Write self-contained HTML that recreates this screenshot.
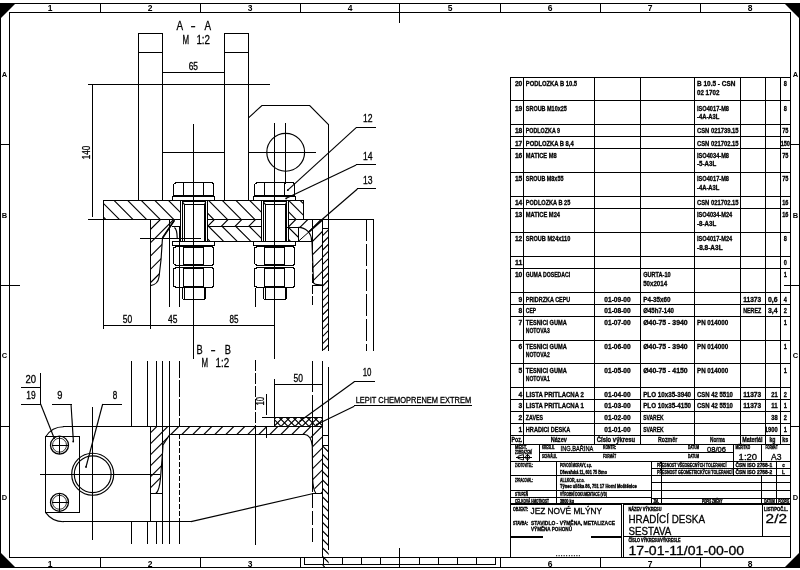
<!DOCTYPE html>
<html><head><meta charset="utf-8"><title>drawing</title>
<style>
html,body{margin:0;padding:0;background:#fff;}
body{width:800px;height:570px;overflow:hidden;}
svg{display:block;font-family:"Liberation Sans",sans-serif;fill:#000;filter:grayscale(1);}
svg rect{shape-rendering:crispEdges;}
</style></head><body>
<svg width="800" height="570" viewBox="0 0 800 570">
<defs>
<clipPath id="c1"><path d="M103.3 200.4 L180.2 200.4 L180.2 219.3 L103.3 219.3 Z"/></clipPath>
<clipPath id="c2"><path d="M207.4 200.4 L261.2 200.4 L261.2 219.3 L207.4 219.3 Z"/></clipPath>
<clipPath id="c3"><path d="M288.4 200.4 L303.6 200.4 L303.6 219.3 L288.4 219.3 Z"/></clipPath>
<clipPath id="c4"><path d="M207.4 219.3 L261.2 219.3 L261.2 226.3 L207.4 226.3 Z"/></clipPath>
<clipPath id="c5"><path d="M207.4 226.3 L261.2 226.3 L261.2 241.2 L207.4 241.2 Z"/></clipPath>
<clipPath id="c6"><path d="M288.4 227.3 L298.5 227.3 L298.5 241.2 L288.4 241.2 Z"/></clipPath>
<clipPath id="c7"><path d="M288.4 219.3 L298.5 219.3 L298.5 227.3 L288.4 227.3 Z"/></clipPath>
<clipPath id="c8"><path d="M150.5 219.3 L174.4 219.3 L162.5 238.0 L161.0 260.0 L159.0 277.0 L157.5 283.0 L150.5 285.6 Z"/></clipPath>
<clipPath id="c9"><path d="M298.5 219.3 L322.2 219.3 L322.2 285.0 L317.7 284.6 L313.5 282.8 L312.0 241.4 L311.5 240.3 L309.8 233.8 L305.0 229.0 L298.5 227.3 Z"/></clipPath>
<clipPath id="c10"><path d="M322.2 228.0 L328.6 228.0 L328.6 350.2 L322.2 350.2 Z"/></clipPath>
<clipPath id="c11"><path d="M150.0 426.3 L322.4 426.3 L322.4 493.6 L315.5 493.6 L312.6 480.0 L312.3 446.0 L310.0 436.5 L304.0 434.2 L170.0 434.2 L163.0 445.0 L162.6 452.0 L160.5 478.0 L158.5 490.0 L156.0 493.5 L150.0 493.5 Z"/></clipPath>
<clipPath id="c12"><path d="M322.4 445.4 L328.7 445.4 L328.7 567.0 L322.4 567.0 Z"/></clipPath>
<clipPath id="c13"><path d="M274.5 417.3 L322.4 417.3 L322.4 426.3 L274.5 426.3 Z"/></clipPath>
<clipPath id="c14"><path d="M274.5 417.3 L322.4 417.3 L322.4 426.3 L274.5 426.3 Z"/></clipPath>
</defs>
<rect x="0" y="0" width="800" height="570" fill="#fff"/>
<rect x="0" y="3" width="800" height="1"/>
<rect x="0" y="567" width="800" height="1"/>
<rect x="0" y="3" width="1" height="565"/>
<rect x="799" y="3" width="1" height="565"/>
<rect x="9" y="12" width="782" height="1"/>
<rect x="9" y="557" width="782" height="1"/>
<rect x="9" y="12" width="1" height="546"/>
<rect x="790" y="12" width="1" height="546"/>
<path d="M0 3 L16 3 L0 19 Z"/>
<path d="M800 3 L784 3 L800 19 Z"/>
<path d="M0 568 L16 568 L0 552 Z"/>
<path d="M800 568 L784 568 L800 552 Z"/>
<rect x="100" y="3" width="1" height="10"/>
<rect x="100" y="557" width="1" height="11"/>
<rect x="200" y="3" width="1" height="10"/>
<rect x="200" y="557" width="1" height="11"/>
<rect x="300" y="3" width="1" height="10"/>
<rect x="300" y="557" width="1" height="11"/>
<rect x="500" y="3" width="1" height="10"/>
<rect x="500" y="557" width="1" height="11"/>
<rect x="600" y="3" width="1" height="10"/>
<rect x="600" y="557" width="1" height="11"/>
<rect x="700" y="3" width="1" height="10"/>
<rect x="700" y="557" width="1" height="11"/>
<rect x="399" y="3" width="1" height="20"/>
<rect x="399" y="548" width="1" height="20"/>
<text x="50.0" y="11.0" font-size="8.5" text-anchor="middle" font-weight="bold" >1</text>
<text x="50.0" y="566.5" font-size="8.5" text-anchor="middle" font-weight="bold" >1</text>
<text x="150.0" y="11.0" font-size="8.5" text-anchor="middle" font-weight="bold" >2</text>
<text x="150.0" y="566.5" font-size="8.5" text-anchor="middle" font-weight="bold" >2</text>
<text x="250.0" y="11.0" font-size="8.5" text-anchor="middle" font-weight="bold" >3</text>
<text x="250.0" y="566.5" font-size="8.5" text-anchor="middle" font-weight="bold" >3</text>
<text x="350.0" y="11.0" font-size="8.5" text-anchor="middle" font-weight="bold" >4</text>
<text x="450.0" y="11.0" font-size="8.5" text-anchor="middle" font-weight="bold" >5</text>
<text x="550.0" y="11.0" font-size="8.5" text-anchor="middle" font-weight="bold" >6</text>
<text x="550.0" y="566.5" font-size="8.5" text-anchor="middle" font-weight="bold" >6</text>
<text x="650.0" y="11.0" font-size="8.5" text-anchor="middle" font-weight="bold" >7</text>
<text x="650.0" y="566.5" font-size="8.5" text-anchor="middle" font-weight="bold" >7</text>
<text x="750.0" y="11.0" font-size="8.5" text-anchor="middle" font-weight="bold" >8</text>
<text x="750.0" y="566.5" font-size="8.5" text-anchor="middle" font-weight="bold" >8</text>
<rect x="0" y="144" width="10" height="1"/>
<rect x="790" y="144" width="10" height="1"/>
<rect x="0" y="426" width="10" height="1"/>
<rect x="790" y="426" width="10" height="1"/>
<rect x="0" y="285" width="20" height="1"/>
<rect x="784" y="285" width="16" height="1"/>
<text x="4.5" y="77.0" font-size="7.5" text-anchor="middle" font-weight="bold" >A</text>
<text x="795.5" y="77.0" font-size="7.5" text-anchor="middle" font-weight="bold" >A</text>
<text x="4.5" y="218.0" font-size="7.5" text-anchor="middle" font-weight="bold" >B</text>
<text x="795.5" y="218.0" font-size="7.5" text-anchor="middle" font-weight="bold" >B</text>
<text x="4.5" y="358.0" font-size="7.5" text-anchor="middle" font-weight="bold" >C</text>
<text x="795.5" y="358.0" font-size="7.5" text-anchor="middle" font-weight="bold" >C</text>
<text x="4.5" y="500.0" font-size="7.5" text-anchor="middle" font-weight="bold" >D</text>
<text x="795.5" y="500.0" font-size="7.5" text-anchor="middle" font-weight="bold" >D</text>
<rect x="304" y="564" width="192" height="1"/>
<rect x="304" y="557" width="1" height="8"/>
<rect x="495" y="557" width="1" height="8"/>
<rect x="304" y="557" width="1" height="8"/>
<rect x="323" y="557" width="1" height="8"/>
<rect x="342" y="557" width="1" height="8"/>
<rect x="361" y="557" width="1" height="8"/>
<rect x="380" y="557" width="1" height="8"/>
<rect x="419" y="557" width="1" height="8"/>
<rect x="438" y="557" width="1" height="8"/>
<rect x="457" y="557" width="1" height="8"/>
<rect x="476" y="557" width="1" height="8"/>
<rect x="495" y="557" width="1" height="8"/>
<rect x="510" y="77" width="281" height="1"/>
<rect x="510" y="100" width="281" height="1"/>
<rect x="510" y="124" width="281" height="1"/>
<rect x="510" y="136" width="281" height="1"/>
<rect x="510" y="148" width="281" height="1"/>
<rect x="510" y="172" width="281" height="1"/>
<rect x="510" y="196" width="281" height="1"/>
<rect x="510" y="208" width="281" height="1"/>
<rect x="510" y="232" width="281" height="1"/>
<rect x="510" y="256" width="281" height="1"/>
<rect x="510" y="268" width="281" height="1"/>
<rect x="510" y="292" width="281" height="1"/>
<rect x="510" y="304" width="281" height="1"/>
<rect x="510" y="316" width="281" height="1"/>
<rect x="510" y="340" width="281" height="1"/>
<rect x="510" y="363" width="281" height="1"/>
<rect x="510" y="387" width="281" height="1"/>
<rect x="510" y="399" width="281" height="1"/>
<rect x="510" y="411" width="281" height="1"/>
<rect x="510" y="423" width="281" height="1"/>
<rect x="510" y="435" width="281" height="1"/>
<rect x="510" y="444" width="281" height="1"/>
<rect x="510" y="77" width="1" height="368"/>
<rect x="523" y="77" width="1" height="368"/>
<rect x="594" y="77" width="1" height="368"/>
<rect x="640" y="77" width="1" height="368"/>
<rect x="694" y="77" width="1" height="368"/>
<rect x="740" y="77" width="1" height="368"/>
<rect x="765" y="77" width="1" height="368"/>
<rect x="780" y="77" width="1" height="368"/>
<text x="522.3" y="86.4" font-size="6.8" textLength="7.4" lengthAdjust="spacingAndGlyphs" text-anchor="end" font-weight="bold" stroke="#000" stroke-width="0.3">20</text>
<text x="525.8" y="86.4" font-size="6.8" textLength="51.3" lengthAdjust="spacingAndGlyphs" font-weight="bold" stroke="#000" stroke-width="0.3">PODLOZKA B 10.5</text>
<text x="697.0" y="86.4" font-size="6.8" textLength="38.4" lengthAdjust="spacingAndGlyphs" font-weight="bold" stroke="#000" stroke-width="0.3">B 10.5 - CSN</text>
<text x="697.0" y="94.8" font-size="6.8" textLength="22.4" lengthAdjust="spacingAndGlyphs" font-weight="bold" stroke="#000" stroke-width="0.3">02 1702</text>
<text x="785.3" y="86.4" font-size="6.8" textLength="3.1" lengthAdjust="spacingAndGlyphs" text-anchor="middle" font-weight="bold" stroke="#000" stroke-width="0.3">8</text>
<text x="522.3" y="110.5" font-size="6.8" textLength="7.4" lengthAdjust="spacingAndGlyphs" text-anchor="end" font-weight="bold" stroke="#000" stroke-width="0.3">19</text>
<text x="525.8" y="110.5" font-size="6.8" textLength="41.0" lengthAdjust="spacingAndGlyphs" font-weight="bold" stroke="#000" stroke-width="0.3">SROUB M10x25</text>
<text x="697.0" y="110.5" font-size="6.8" textLength="32.0" lengthAdjust="spacingAndGlyphs" font-weight="bold" stroke="#000" stroke-width="0.3">ISO4017-M8</text>
<text x="697.0" y="118.9" font-size="6.8" textLength="22.4" lengthAdjust="spacingAndGlyphs" font-weight="bold" stroke="#000" stroke-width="0.3">-4A-A3L</text>
<text x="785.3" y="110.5" font-size="6.8" textLength="3.1" lengthAdjust="spacingAndGlyphs" text-anchor="middle" font-weight="bold" stroke="#000" stroke-width="0.3">8</text>
<text x="522.3" y="133.3" font-size="6.8" textLength="7.4" lengthAdjust="spacingAndGlyphs" text-anchor="end" font-weight="bold" stroke="#000" stroke-width="0.3">18</text>
<text x="525.8" y="133.3" font-size="6.8" textLength="34.2" lengthAdjust="spacingAndGlyphs" font-weight="bold" stroke="#000" stroke-width="0.3">PODLOZKA 9</text>
<text x="697.0" y="133.3" font-size="6.8" textLength="41.6" lengthAdjust="spacingAndGlyphs" font-weight="bold" stroke="#000" stroke-width="0.3">CSN 021739.15</text>
<text x="785.3" y="133.3" font-size="6.8" textLength="6.2" lengthAdjust="spacingAndGlyphs" text-anchor="middle" font-weight="bold" stroke="#000" stroke-width="0.3">75</text>
<text x="522.3" y="145.5" font-size="6.8" textLength="7.4" lengthAdjust="spacingAndGlyphs" text-anchor="end" font-weight="bold" stroke="#000" stroke-width="0.3">17</text>
<text x="525.8" y="145.5" font-size="6.8" textLength="47.9" lengthAdjust="spacingAndGlyphs" font-weight="bold" stroke="#000" stroke-width="0.3">PODLOZKA B 8,4</text>
<text x="697.0" y="145.5" font-size="6.8" textLength="41.6" lengthAdjust="spacingAndGlyphs" font-weight="bold" stroke="#000" stroke-width="0.3">CSN 021702.15</text>
<text x="785.3" y="145.5" font-size="6.8" textLength="9.3" lengthAdjust="spacingAndGlyphs" text-anchor="middle" font-weight="bold" stroke="#000" stroke-width="0.3">150</text>
<text x="522.3" y="157.5" font-size="6.8" textLength="7.4" lengthAdjust="spacingAndGlyphs" text-anchor="end" font-weight="bold" stroke="#000" stroke-width="0.3">16</text>
<text x="525.8" y="157.5" font-size="6.8" textLength="30.8" lengthAdjust="spacingAndGlyphs" font-weight="bold" stroke="#000" stroke-width="0.3">MATICE M8</text>
<text x="697.0" y="157.5" font-size="6.8" textLength="32.0" lengthAdjust="spacingAndGlyphs" font-weight="bold" stroke="#000" stroke-width="0.3">ISO4034-M8</text>
<text x="697.0" y="165.9" font-size="6.8" textLength="19.2" lengthAdjust="spacingAndGlyphs" font-weight="bold" stroke="#000" stroke-width="0.3">-5-A3L</text>
<text x="785.3" y="157.5" font-size="6.8" textLength="6.2" lengthAdjust="spacingAndGlyphs" text-anchor="middle" font-weight="bold" stroke="#000" stroke-width="0.3">75</text>
<text x="522.3" y="181.3" font-size="6.8" textLength="7.4" lengthAdjust="spacingAndGlyphs" text-anchor="end" font-weight="bold" stroke="#000" stroke-width="0.3">15</text>
<text x="525.8" y="181.3" font-size="6.8" textLength="37.6" lengthAdjust="spacingAndGlyphs" font-weight="bold" stroke="#000" stroke-width="0.3">SROUB M8x55</text>
<text x="697.0" y="181.3" font-size="6.8" textLength="32.0" lengthAdjust="spacingAndGlyphs" font-weight="bold" stroke="#000" stroke-width="0.3">ISO4017-M8</text>
<text x="697.0" y="189.7" font-size="6.8" textLength="22.4" lengthAdjust="spacingAndGlyphs" font-weight="bold" stroke="#000" stroke-width="0.3">-4A-A3L</text>
<text x="785.3" y="181.3" font-size="6.8" textLength="6.2" lengthAdjust="spacingAndGlyphs" text-anchor="middle" font-weight="bold" stroke="#000" stroke-width="0.3">75</text>
<text x="522.3" y="205.1" font-size="6.8" textLength="7.4" lengthAdjust="spacingAndGlyphs" text-anchor="end" font-weight="bold" stroke="#000" stroke-width="0.3">14</text>
<text x="525.8" y="205.1" font-size="6.8" textLength="44.5" lengthAdjust="spacingAndGlyphs" font-weight="bold" stroke="#000" stroke-width="0.3">PODLOZKA B 25</text>
<text x="697.0" y="205.1" font-size="6.8" textLength="41.6" lengthAdjust="spacingAndGlyphs" font-weight="bold" stroke="#000" stroke-width="0.3">CSN 021702.15</text>
<text x="785.3" y="205.1" font-size="6.8" textLength="6.2" lengthAdjust="spacingAndGlyphs" text-anchor="middle" font-weight="bold" stroke="#000" stroke-width="0.3">16</text>
<text x="522.3" y="217.1" font-size="6.8" textLength="7.4" lengthAdjust="spacingAndGlyphs" text-anchor="end" font-weight="bold" stroke="#000" stroke-width="0.3">13</text>
<text x="525.8" y="217.1" font-size="6.8" textLength="34.2" lengthAdjust="spacingAndGlyphs" font-weight="bold" stroke="#000" stroke-width="0.3">MATICE M24</text>
<text x="697.0" y="217.1" font-size="6.8" textLength="35.2" lengthAdjust="spacingAndGlyphs" font-weight="bold" stroke="#000" stroke-width="0.3">ISO4034-M24</text>
<text x="697.0" y="225.5" font-size="6.8" textLength="19.2" lengthAdjust="spacingAndGlyphs" font-weight="bold" stroke="#000" stroke-width="0.3">-8-A3L</text>
<text x="785.3" y="217.1" font-size="6.8" textLength="6.2" lengthAdjust="spacingAndGlyphs" text-anchor="middle" font-weight="bold" stroke="#000" stroke-width="0.3">16</text>
<text x="522.3" y="241.2" font-size="6.8" textLength="7.4" lengthAdjust="spacingAndGlyphs" text-anchor="end" font-weight="bold" stroke="#000" stroke-width="0.3">12</text>
<text x="525.8" y="241.2" font-size="6.8" textLength="44.5" lengthAdjust="spacingAndGlyphs" font-weight="bold" stroke="#000" stroke-width="0.3">SROUB M24x110</text>
<text x="697.0" y="241.2" font-size="6.8" textLength="35.2" lengthAdjust="spacingAndGlyphs" font-weight="bold" stroke="#000" stroke-width="0.3">ISO4017-M24</text>
<text x="697.0" y="249.6" font-size="6.8" textLength="25.6" lengthAdjust="spacingAndGlyphs" font-weight="bold" stroke="#000" stroke-width="0.3">-8.8-A3L</text>
<text x="785.3" y="241.2" font-size="6.8" textLength="3.1" lengthAdjust="spacingAndGlyphs" text-anchor="middle" font-weight="bold" stroke="#000" stroke-width="0.3">8</text>
<text x="522.3" y="265.3" font-size="6.8" textLength="7.4" lengthAdjust="spacingAndGlyphs" text-anchor="end" font-weight="bold" stroke="#000" stroke-width="0.3">11</text>
<text x="785.3" y="265.3" font-size="6.8" textLength="3.1" lengthAdjust="spacingAndGlyphs" text-anchor="middle" font-weight="bold" stroke="#000" stroke-width="0.3">0</text>
<text x="522.3" y="277.3" font-size="6.8" textLength="7.4" lengthAdjust="spacingAndGlyphs" text-anchor="end" font-weight="bold" stroke="#000" stroke-width="0.3">10</text>
<text x="525.8" y="277.3" font-size="6.8" textLength="44.5" lengthAdjust="spacingAndGlyphs" font-weight="bold" stroke="#000" stroke-width="0.3">GUMA DOSEDACI</text>
<text x="643.2" y="277.3" font-size="6.8" textLength="27.4" lengthAdjust="spacingAndGlyphs" font-weight="bold" stroke="#000" stroke-width="0.3">GURTA-10</text>
<text x="643.2" y="285.7" font-size="6.8" textLength="23.9" lengthAdjust="spacingAndGlyphs" font-weight="bold" stroke="#000" stroke-width="0.3">50x2014</text>
<text x="785.3" y="277.3" font-size="6.8" textLength="3.1" lengthAdjust="spacingAndGlyphs" text-anchor="middle" font-weight="bold" stroke="#000" stroke-width="0.3">1</text>
<text x="522.3" y="301.5" font-size="6.8" textLength="3.7" lengthAdjust="spacingAndGlyphs" text-anchor="end" font-weight="bold" stroke="#000" stroke-width="0.3">9</text>
<text x="525.8" y="301.5" font-size="6.8" textLength="44.5" lengthAdjust="spacingAndGlyphs" font-weight="bold" stroke="#000" stroke-width="0.3">PRIDRZKA CEPU</text>
<text x="604.3" y="301.5" font-size="6.8" textLength="26.4" lengthAdjust="spacingAndGlyphs" font-weight="bold" stroke="#000" stroke-width="0.3">01-09-00</text>
<text x="643.2" y="301.5" font-size="6.8" textLength="27.4" lengthAdjust="spacingAndGlyphs" font-weight="bold" stroke="#000" stroke-width="0.3">P4-35x60</text>
<text x="743.2" y="301.5" font-size="6.8" textLength="18.0" lengthAdjust="spacingAndGlyphs" font-weight="bold" stroke="#000" stroke-width="0.3">11373</text>
<text x="777.6" y="301.5" font-size="6.8" textLength="9.6" lengthAdjust="spacingAndGlyphs" text-anchor="end" font-weight="bold" stroke="#000" stroke-width="0.3">0,6</text>
<text x="785.3" y="301.5" font-size="6.8" textLength="3.1" lengthAdjust="spacingAndGlyphs" text-anchor="middle" font-weight="bold" stroke="#000" stroke-width="0.3">4</text>
<text x="522.3" y="313.3" font-size="6.8" textLength="3.7" lengthAdjust="spacingAndGlyphs" text-anchor="end" font-weight="bold" stroke="#000" stroke-width="0.3">8</text>
<text x="525.8" y="313.3" font-size="6.8" textLength="10.3" lengthAdjust="spacingAndGlyphs" font-weight="bold" stroke="#000" stroke-width="0.3">CEP</text>
<text x="604.3" y="313.3" font-size="6.8" textLength="26.4" lengthAdjust="spacingAndGlyphs" font-weight="bold" stroke="#000" stroke-width="0.3">01-08-00</text>
<text x="643.2" y="313.3" font-size="6.8" textLength="30.8" lengthAdjust="spacingAndGlyphs" font-weight="bold" stroke="#000" stroke-width="0.3">Ø45h7-140</text>
<text x="743.2" y="313.3" font-size="6.8" textLength="18.0" lengthAdjust="spacingAndGlyphs" font-weight="bold" stroke="#000" stroke-width="0.3">NEREZ</text>
<text x="777.6" y="313.3" font-size="6.8" textLength="9.6" lengthAdjust="spacingAndGlyphs" text-anchor="end" font-weight="bold" stroke="#000" stroke-width="0.3">3,4</text>
<text x="785.3" y="313.3" font-size="6.8" textLength="3.1" lengthAdjust="spacingAndGlyphs" text-anchor="middle" font-weight="bold" stroke="#000" stroke-width="0.3">2</text>
<text x="522.3" y="325.0" font-size="6.8" textLength="3.7" lengthAdjust="spacingAndGlyphs" text-anchor="end" font-weight="bold" stroke="#000" stroke-width="0.3">7</text>
<text x="525.8" y="325.0" font-size="6.8" textLength="41.0" lengthAdjust="spacingAndGlyphs" font-weight="bold" stroke="#000" stroke-width="0.3">TESNICI GUMA</text>
<text x="525.8" y="333.4" font-size="6.8" textLength="23.9" lengthAdjust="spacingAndGlyphs" font-weight="bold" stroke="#000" stroke-width="0.3">NOTOVA3</text>
<text x="604.3" y="325.0" font-size="6.8" textLength="26.4" lengthAdjust="spacingAndGlyphs" font-weight="bold" stroke="#000" stroke-width="0.3">01-07-00</text>
<text x="643.2" y="325.0" font-size="6.8" textLength="44.5" lengthAdjust="spacingAndGlyphs" font-weight="bold" stroke="#000" stroke-width="0.3">Ø40-75 - 3940</text>
<text x="697.0" y="325.0" font-size="6.8" textLength="31.1" lengthAdjust="spacingAndGlyphs" font-weight="bold" stroke="#000" stroke-width="0.3">PN 014000</text>
<text x="785.3" y="325.0" font-size="6.8" textLength="3.1" lengthAdjust="spacingAndGlyphs" text-anchor="middle" font-weight="bold" stroke="#000" stroke-width="0.3">1</text>
<text x="522.3" y="348.9" font-size="6.8" textLength="3.7" lengthAdjust="spacingAndGlyphs" text-anchor="end" font-weight="bold" stroke="#000" stroke-width="0.3">6</text>
<text x="525.8" y="348.9" font-size="6.8" textLength="41.0" lengthAdjust="spacingAndGlyphs" font-weight="bold" stroke="#000" stroke-width="0.3">TESNICI GUMA</text>
<text x="525.8" y="357.3" font-size="6.8" textLength="23.9" lengthAdjust="spacingAndGlyphs" font-weight="bold" stroke="#000" stroke-width="0.3">NOTOVA2</text>
<text x="604.3" y="348.9" font-size="6.8" textLength="26.4" lengthAdjust="spacingAndGlyphs" font-weight="bold" stroke="#000" stroke-width="0.3">01-06-00</text>
<text x="643.2" y="348.9" font-size="6.8" textLength="44.5" lengthAdjust="spacingAndGlyphs" font-weight="bold" stroke="#000" stroke-width="0.3">Ø40-75 - 3940</text>
<text x="697.0" y="348.9" font-size="6.8" textLength="31.1" lengthAdjust="spacingAndGlyphs" font-weight="bold" stroke="#000" stroke-width="0.3">PN 014000</text>
<text x="785.3" y="348.9" font-size="6.8" textLength="3.1" lengthAdjust="spacingAndGlyphs" text-anchor="middle" font-weight="bold" stroke="#000" stroke-width="0.3">1</text>
<text x="522.3" y="372.7" font-size="6.8" textLength="3.7" lengthAdjust="spacingAndGlyphs" text-anchor="end" font-weight="bold" stroke="#000" stroke-width="0.3">5</text>
<text x="525.8" y="372.7" font-size="6.8" textLength="41.0" lengthAdjust="spacingAndGlyphs" font-weight="bold" stroke="#000" stroke-width="0.3">TESNICI GUMA</text>
<text x="525.8" y="381.1" font-size="6.8" textLength="23.9" lengthAdjust="spacingAndGlyphs" font-weight="bold" stroke="#000" stroke-width="0.3">NOTOVA1</text>
<text x="604.3" y="372.7" font-size="6.8" textLength="26.4" lengthAdjust="spacingAndGlyphs" font-weight="bold" stroke="#000" stroke-width="0.3">01-05-00</text>
<text x="643.2" y="372.7" font-size="6.8" textLength="44.5" lengthAdjust="spacingAndGlyphs" font-weight="bold" stroke="#000" stroke-width="0.3">Ø40-75 - 4150</text>
<text x="697.0" y="372.7" font-size="6.8" textLength="31.1" lengthAdjust="spacingAndGlyphs" font-weight="bold" stroke="#000" stroke-width="0.3">PN 014000</text>
<text x="785.3" y="372.7" font-size="6.8" textLength="3.1" lengthAdjust="spacingAndGlyphs" text-anchor="middle" font-weight="bold" stroke="#000" stroke-width="0.3">1</text>
<text x="522.3" y="396.5" font-size="6.8" textLength="3.7" lengthAdjust="spacingAndGlyphs" text-anchor="end" font-weight="bold" stroke="#000" stroke-width="0.3">4</text>
<text x="525.8" y="396.5" font-size="6.8" textLength="58.1" lengthAdjust="spacingAndGlyphs" font-weight="bold" stroke="#000" stroke-width="0.3">LISTA PRITLACNA 2</text>
<text x="604.3" y="396.5" font-size="6.8" textLength="26.4" lengthAdjust="spacingAndGlyphs" font-weight="bold" stroke="#000" stroke-width="0.3">01-04-00</text>
<text x="643.2" y="396.5" font-size="6.8" textLength="47.9" lengthAdjust="spacingAndGlyphs" font-weight="bold" stroke="#000" stroke-width="0.3">PLO 10x35-3940</text>
<text x="697.0" y="396.5" font-size="6.8" textLength="35.8" lengthAdjust="spacingAndGlyphs" font-weight="bold" stroke="#000" stroke-width="0.3">CSN 42 5510</text>
<text x="743.2" y="396.5" font-size="6.8" textLength="18.0" lengthAdjust="spacingAndGlyphs" font-weight="bold" stroke="#000" stroke-width="0.3">11373</text>
<text x="777.6" y="396.5" font-size="6.8" textLength="6.4" lengthAdjust="spacingAndGlyphs" text-anchor="end" font-weight="bold" stroke="#000" stroke-width="0.3">21</text>
<text x="785.3" y="396.5" font-size="6.8" textLength="3.1" lengthAdjust="spacingAndGlyphs" text-anchor="middle" font-weight="bold" stroke="#000" stroke-width="0.3">2</text>
<text x="522.3" y="408.4" font-size="6.8" textLength="3.7" lengthAdjust="spacingAndGlyphs" text-anchor="end" font-weight="bold" stroke="#000" stroke-width="0.3">3</text>
<text x="525.8" y="408.4" font-size="6.8" textLength="58.1" lengthAdjust="spacingAndGlyphs" font-weight="bold" stroke="#000" stroke-width="0.3">LISTA PRITLACNA 1</text>
<text x="604.3" y="408.4" font-size="6.8" textLength="26.4" lengthAdjust="spacingAndGlyphs" font-weight="bold" stroke="#000" stroke-width="0.3">01-03-00</text>
<text x="643.2" y="408.4" font-size="6.8" textLength="47.9" lengthAdjust="spacingAndGlyphs" font-weight="bold" stroke="#000" stroke-width="0.3">PLO 10x35-4150</text>
<text x="697.0" y="408.4" font-size="6.8" textLength="35.8" lengthAdjust="spacingAndGlyphs" font-weight="bold" stroke="#000" stroke-width="0.3">CSN 42 5510</text>
<text x="743.2" y="408.4" font-size="6.8" textLength="18.0" lengthAdjust="spacingAndGlyphs" font-weight="bold" stroke="#000" stroke-width="0.3">11373</text>
<text x="777.6" y="408.4" font-size="6.8" textLength="6.4" lengthAdjust="spacingAndGlyphs" text-anchor="end" font-weight="bold" stroke="#000" stroke-width="0.3">11</text>
<text x="785.3" y="408.4" font-size="6.8" textLength="3.1" lengthAdjust="spacingAndGlyphs" text-anchor="middle" font-weight="bold" stroke="#000" stroke-width="0.3">1</text>
<text x="522.3" y="420.2" font-size="6.8" textLength="3.7" lengthAdjust="spacingAndGlyphs" text-anchor="end" font-weight="bold" stroke="#000" stroke-width="0.3">2</text>
<text x="525.8" y="420.2" font-size="6.8" textLength="17.1" lengthAdjust="spacingAndGlyphs" font-weight="bold" stroke="#000" stroke-width="0.3">ZAVES</text>
<text x="604.3" y="420.2" font-size="6.8" textLength="26.4" lengthAdjust="spacingAndGlyphs" font-weight="bold" stroke="#000" stroke-width="0.3">01-02-00</text>
<text x="643.2" y="420.2" font-size="6.8" textLength="20.5" lengthAdjust="spacingAndGlyphs" font-weight="bold" stroke="#000" stroke-width="0.3">SVAREK</text>
<text x="777.6" y="420.2" font-size="6.8" textLength="6.4" lengthAdjust="spacingAndGlyphs" text-anchor="end" font-weight="bold" stroke="#000" stroke-width="0.3">38</text>
<text x="785.3" y="420.2" font-size="6.8" textLength="3.1" lengthAdjust="spacingAndGlyphs" text-anchor="middle" font-weight="bold" stroke="#000" stroke-width="0.3">2</text>
<text x="522.3" y="432.2" font-size="6.8" textLength="3.7" lengthAdjust="spacingAndGlyphs" text-anchor="end" font-weight="bold" stroke="#000" stroke-width="0.3">1</text>
<text x="525.8" y="432.2" font-size="6.8" textLength="44.5" lengthAdjust="spacingAndGlyphs" font-weight="bold" stroke="#000" stroke-width="0.3">HRADICI DESKA</text>
<text x="604.3" y="432.2" font-size="6.8" textLength="26.4" lengthAdjust="spacingAndGlyphs" font-weight="bold" stroke="#000" stroke-width="0.3">01-01-00</text>
<text x="643.2" y="432.2" font-size="6.8" textLength="20.5" lengthAdjust="spacingAndGlyphs" font-weight="bold" stroke="#000" stroke-width="0.3">SVAREK</text>
<text x="777.6" y="432.2" font-size="6.8" textLength="12.8" lengthAdjust="spacingAndGlyphs" text-anchor="end" font-weight="bold" stroke="#000" stroke-width="0.3">1900</text>
<text x="785.3" y="432.2" font-size="6.8" textLength="3.1" lengthAdjust="spacingAndGlyphs" text-anchor="middle" font-weight="bold" stroke="#000" stroke-width="0.3">1</text>
<text x="511.5" y="442.4" font-size="6.5" textLength="10.8" lengthAdjust="spacingAndGlyphs" font-weight="bold" stroke="#000" stroke-width="0.3">Poz.</text>
<text x="558.8" y="442.4" font-size="6.5" textLength="16.0" lengthAdjust="spacingAndGlyphs" text-anchor="middle" font-weight="bold" stroke="#000" stroke-width="0.3">Název</text>
<text x="596.8" y="442.4" font-size="6.5" textLength="38.4" lengthAdjust="spacingAndGlyphs" font-weight="bold" stroke="#000" stroke-width="0.3">Číslo výkresu</text>
<text x="658.0" y="442.4" font-size="6.5" textLength="19.2" lengthAdjust="spacingAndGlyphs" font-weight="bold" stroke="#000" stroke-width="0.3">Rozměr</text>
<text x="710.0" y="442.4" font-size="6.5" textLength="15.0" lengthAdjust="spacingAndGlyphs" font-weight="bold" stroke="#000" stroke-width="0.3">Norma</text>
<text x="742.2" y="442.4" font-size="6.5" textLength="20.4" lengthAdjust="spacingAndGlyphs" font-weight="bold" stroke="#000" stroke-width="0.3">Materiál</text>
<text x="772.5" y="442.4" font-size="6.5" textLength="6.0" lengthAdjust="spacingAndGlyphs" text-anchor="middle" font-weight="bold" stroke="#000" stroke-width="0.3">kg</text>
<text x="785.3" y="442.4" font-size="6.5" textLength="6.0" lengthAdjust="spacingAndGlyphs" text-anchor="middle" font-weight="bold" stroke="#000" stroke-width="0.3">ks</text>
<rect x="510" y="444" width="1" height="60"/>
<rect x="790" y="444" width="1" height="60"/>
<rect x="539" y="444" width="1" height="18"/>
<rect x="539" y="452" width="195" height="1"/>
<rect x="510" y="461" width="281" height="1"/>
<rect x="733" y="444" width="1" height="32"/>
<rect x="761" y="444" width="1" height="18"/>
<rect x="510" y="475" width="281" height="1"/>
<rect x="510" y="490" width="281" height="1"/>
<rect x="510" y="497" width="142" height="1"/>
<rect x="651" y="498" width="140" height="1"/>
<rect x="510" y="503" width="281" height="1"/>
<rect x="556" y="461" width="1" height="43"/>
<rect x="651" y="461" width="1" height="43"/>
<rect x="651" y="468" width="140" height="1"/>
<rect x="651" y="482" width="140" height="1"/>
<rect x="661" y="461" width="1" height="43"/>
<rect x="761" y="475" width="1" height="29"/>
<rect x="776" y="461" width="1" height="43"/>
<text x="515.0" y="449.0" font-size="4.6" textLength="12.0" lengthAdjust="spacingAndGlyphs" font-weight="bold" stroke="#000" stroke-width="0.35">MĚST.</text>
<text x="515.0" y="454.0" font-size="4.6" textLength="17.0" lengthAdjust="spacingAndGlyphs" font-weight="bold" stroke="#000" stroke-width="0.35">ZOBRAZENÍ</text>
<circle cx="527.6" cy="457.3" r="2.1" fill="none" stroke="#000" stroke-width="0.9"/>
<path d="M518.0 456.2 L523.5 454.6 L523.5 460.0 L518.0 458.4 Z" fill="none" stroke="#000" stroke-width="0.9" />
<rect x="516" y="457" width="16" height="1"/>
<rect x="527" y="454" width="1" height="7"/>
<text x="542.0" y="449.0" font-size="4.6" textLength="12.5" lengthAdjust="spacingAndGlyphs" font-weight="bold" stroke="#000" stroke-width="0.35">KRESLIL</text>
<text x="560.6" y="451.2" font-size="6.8" textLength="32.7" lengthAdjust="spacingAndGlyphs" stroke="#000" stroke-width="0.3" >ING.BAŘINA</text>
<text x="603.0" y="449.0" font-size="4.6" textLength="13.0" lengthAdjust="spacingAndGlyphs" font-weight="bold" stroke="#000" stroke-width="0.35">KONTR:</text>
<text x="542.0" y="458.0" font-size="4.6" textLength="15.0" lengthAdjust="spacingAndGlyphs" font-weight="bold" stroke="#000" stroke-width="0.35">SCHVÁLIL</text>
<text x="603.0" y="458.0" font-size="4.6" textLength="13.0" lengthAdjust="spacingAndGlyphs" font-weight="bold" stroke="#000" stroke-width="0.35">FORMÁT</text>
<text x="688.0" y="449.0" font-size="4.6" textLength="11.0" lengthAdjust="spacingAndGlyphs" font-weight="bold" stroke="#000" stroke-width="0.35">DATUM</text>
<text x="707.0" y="451.8" font-size="7" textLength="19.0" lengthAdjust="spacingAndGlyphs" stroke="#000" stroke-width="0.3" >08/06</text>
<text x="688.0" y="458.0" font-size="4.6" textLength="11.0" lengthAdjust="spacingAndGlyphs" font-weight="bold" stroke="#000" stroke-width="0.35">DATUM</text>
<text x="735.6" y="449.0" font-size="4.6" textLength="14.5" lengthAdjust="spacingAndGlyphs" font-weight="bold" stroke="#000" stroke-width="0.35">MĚŘÍTKO</text>
<text x="738.6" y="459.6" font-size="9" textLength="18.5" lengthAdjust="spacingAndGlyphs" stroke="#000" stroke-width="0.3" >1:20</text>
<text x="765.6" y="449.0" font-size="4.6" textLength="12.0" lengthAdjust="spacingAndGlyphs" font-weight="bold" stroke="#000" stroke-width="0.35">FORMÁT</text>
<text x="771.0" y="459.6" font-size="9" textLength="10.5" lengthAdjust="spacingAndGlyphs" stroke="#000" stroke-width="0.3" >A3</text>
<text x="515.0" y="467.3" font-size="4.6" textLength="18.0" lengthAdjust="spacingAndGlyphs" font-weight="bold" stroke="#000" stroke-width="0.35">ZHOTOVITEL:</text>
<text x="560.0" y="467.3" font-size="4.6" textLength="32.0" lengthAdjust="spacingAndGlyphs" font-weight="bold" stroke="#000" stroke-width="0.35">POVODÍ MORAVY, s.p.</text>
<text x="560.0" y="473.6" font-size="4.6" textLength="47.0" lengthAdjust="spacingAndGlyphs" font-weight="bold" stroke="#000" stroke-width="0.35">Dřevařská 11, 601 75 Brno</text>
<text x="515.0" y="481.8" font-size="4.6" textLength="18.0" lengthAdjust="spacingAndGlyphs" font-weight="bold" stroke="#000" stroke-width="0.35">ZPRACOVAL:</text>
<text x="560.0" y="481.8" font-size="4.6" textLength="24.5" lengthAdjust="spacingAndGlyphs" font-weight="bold" stroke="#000" stroke-width="0.35">ALLKOR, s.r.o.</text>
<text x="560.0" y="488.3" font-size="4.6" textLength="76.7" lengthAdjust="spacingAndGlyphs" font-weight="bold" stroke="#000" stroke-width="0.35">Týnec ulička 86, 751 17 Horní Moštěnice</text>
<text x="515.0" y="495.6" font-size="4.6" textLength="13.0" lengthAdjust="spacingAndGlyphs" font-weight="bold" stroke="#000" stroke-width="0.35">STUPEŇ</text>
<text x="560.0" y="495.6" font-size="4.6" textLength="47.0" lengthAdjust="spacingAndGlyphs" font-weight="bold" stroke="#000" stroke-width="0.35">VÝROBNÍ DOKUMENTACE (VD)</text>
<text x="515.0" y="502.5" font-size="4.6" textLength="34.0" lengthAdjust="spacingAndGlyphs" font-weight="bold" stroke="#000" stroke-width="0.35">CELKOVÁ HMOTNOST</text>
<text x="560.0" y="502.5" font-size="4.6" textLength="14.0" lengthAdjust="spacingAndGlyphs" font-weight="bold" stroke="#000" stroke-width="0.35">3800 kg</text>
<text x="657.0" y="467.0" font-size="5.2" textLength="69.4" lengthAdjust="spacingAndGlyphs" font-weight="bold" stroke="#000" stroke-width="0.35">PŘESNOST VŠEOBECNÝCH TOLERANCÍ</text>
<text x="735.6" y="467.0" font-size="5.2" textLength="36.5" lengthAdjust="spacingAndGlyphs" font-weight="bold" stroke="#000" stroke-width="0.35">ČSN ISO 2768-1</text>
<text x="783.6" y="467.0" font-size="5.5" textLength="2.5" lengthAdjust="spacingAndGlyphs" text-anchor="middle" font-weight="bold" stroke="#000" stroke-width="0.35">c</text>
<text x="657.0" y="474.2" font-size="5.2" textLength="75.4" lengthAdjust="spacingAndGlyphs" font-weight="bold" stroke="#000" stroke-width="0.35">PŘESNOST GEOMETRICKÝCH TOLERANCÍ</text>
<text x="735.6" y="474.2" font-size="5.2" textLength="36.5" lengthAdjust="spacingAndGlyphs" font-weight="bold" stroke="#000" stroke-width="0.35">ČSN ISO 2768-2</text>
<text x="783.6" y="474.2" font-size="5.5" textLength="3.0" lengthAdjust="spacingAndGlyphs" text-anchor="middle" font-weight="bold" stroke="#000" stroke-width="0.35">L</text>
<text x="653.4" y="502.7" font-size="4.6" textLength="5.5" lengthAdjust="spacingAndGlyphs" font-weight="bold" stroke="#000" stroke-width="0.35">ZM.</text>
<text x="702.0" y="502.7" font-size="4.6" textLength="20.5" lengthAdjust="spacingAndGlyphs" font-weight="bold" stroke="#000" stroke-width="0.35">POPIS ZMĚNY</text>
<text x="764.2" y="502.7" font-size="4.6" textLength="10.5" lengthAdjust="spacingAndGlyphs" font-weight="bold" stroke="#000" stroke-width="0.35">DATUM</text>
<text x="778.2" y="502.7" font-size="4.6" textLength="11.0" lengthAdjust="spacingAndGlyphs" font-weight="bold" stroke="#000" stroke-width="0.35">PODPIS</text>
<rect x="510" y="504" width="112" height="1"/>
<rect x="510" y="557" width="112" height="1"/>
<rect x="510" y="504" width="1" height="54"/>
<rect x="621" y="504" width="1" height="54"/>
<rect x="510" y="536" width="33" height="2"/>
<rect x="591" y="536" width="31" height="2"/>
<rect x="623" y="504" width="168" height="1"/>
<rect x="623" y="557" width="168" height="1"/>
<rect x="623" y="504" width="1" height="54"/>
<rect x="790" y="504" width="1" height="54"/>
<rect x="623" y="536" width="168" height="1"/>
<rect x="762" y="504" width="1" height="33"/>
<text x="513.0" y="511.0" font-size="4.6" textLength="15.0" lengthAdjust="spacingAndGlyphs" font-weight="bold" stroke="#000" stroke-width="0.35">OBJEKT:</text>
<text x="530.5" y="513.8" font-size="8.6" textLength="71.5" lengthAdjust="spacingAndGlyphs" stroke="#000" stroke-width="0.3" >JEZ NOVÉ MLÝNY</text>
<text x="513.0" y="524.6" font-size="4.6" textLength="15.0" lengthAdjust="spacingAndGlyphs" font-weight="bold" stroke="#000" stroke-width="0.35">STAVBA:</text>
<text x="531.0" y="524.8" font-size="5.4" textLength="84.0" lengthAdjust="spacingAndGlyphs" font-weight="bold" stroke="#000" stroke-width="0.3">STAVIDLO - VÝMĚNA, METALIZACE</text>
<text x="531.0" y="531.2" font-size="5.4" textLength="41.0" lengthAdjust="spacingAndGlyphs" font-weight="bold" stroke="#000" stroke-width="0.3">VÝMĚNA POHONŮ</text>
<text x="556.0" y="556.0" font-size="3.5" textLength="24.0" lengthAdjust="spacingAndGlyphs" font-weight="bold" stroke="#000" stroke-width="0.35">. . . . . . . . . .</text>
<text x="628.5" y="510.6" font-size="4.6" textLength="33.0" lengthAdjust="spacingAndGlyphs" font-weight="bold" stroke="#000" stroke-width="0.35">NÁZEV VÝKRESU</text>
<text x="628.5" y="523.4" font-size="11.6" textLength="76.5" lengthAdjust="spacingAndGlyphs" stroke="#000" stroke-width="0.3" >HRADÍCÍ DESKA</text>
<text x="628.5" y="534.5" font-size="10.6" textLength="42.8" lengthAdjust="spacingAndGlyphs" stroke="#000" stroke-width="0.3" >SESTAVA</text>
<text x="628.5" y="542.4" font-size="4.6" textLength="52.0" lengthAdjust="spacingAndGlyphs" font-weight="bold" stroke="#000" stroke-width="0.35">ČÍSLO VÝKRESU/VÝKRESLE</text>
<text x="628.5" y="555.4" font-size="13.2" textLength="115.7" lengthAdjust="spacingAndGlyphs" stroke="#000" stroke-width="0.3" >17-01-11/01-00-00</text>
<text x="764.0" y="511.4" font-size="5.2" textLength="24.0" lengthAdjust="spacingAndGlyphs" font-weight="bold" stroke="#000" stroke-width="0.35">LIST/POČ.L.</text>
<text x="765.6" y="523.4" font-size="13.2" textLength="21.4" lengthAdjust="spacingAndGlyphs" stroke="#000" stroke-width="0.3" >2/2</text>
<text x="176.6" y="29.7" font-size="12.4" textLength="6.6" lengthAdjust="spacingAndGlyphs" stroke="#000" stroke-width="0.3" >A</text>
<text x="190.6" y="29.7" font-size="12.4" textLength="5.2" lengthAdjust="spacingAndGlyphs" stroke="#000" stroke-width="0.3" >-</text>
<text x="204.4" y="29.7" font-size="12.4" textLength="6.6" lengthAdjust="spacingAndGlyphs" stroke="#000" stroke-width="0.3" >A</text>
<text x="182.4" y="43.7" font-size="12.4" textLength="6.6" lengthAdjust="spacingAndGlyphs" stroke="#000" stroke-width="0.3" >M</text>
<text x="196.4" y="43.7" font-size="12.4" textLength="13.6" lengthAdjust="spacingAndGlyphs" stroke="#000" stroke-width="0.3" >1:2</text>
<rect x="138" y="33" width="1" height="168"/>
<rect x="162" y="33" width="1" height="168"/>
<rect x="138" y="33" width="25" height="1"/>
<rect x="138" y="52" width="25" height="1"/>
<rect x="224" y="33" width="1" height="168"/>
<rect x="248" y="33" width="1" height="168"/>
<rect x="224" y="33" width="25" height="1"/>
<rect x="224" y="52" width="25" height="1"/>
<rect x="162" y="72" width="63" height="1"/>
<text x="188.7" y="69.8" font-size="10" textLength="9.3" lengthAdjust="spacingAndGlyphs" stroke="#000" stroke-width="0.3" >65</text>
<rect x="88" y="84" width="182" height="1"/>
<rect x="92" y="85" width="1" height="132"/>
<rect x="88" y="219" width="16" height="1"/>
<text x="90.2" y="159.2" font-size="10.6" textLength="13.4" lengthAdjust="spacingAndGlyphs" stroke="#000" stroke-width="0.3" transform="rotate(-90 90.2 159.2)" >140</text>
<rect x="162" y="152" width="63" height="1"/>
<rect x="248" y="152" width="68" height="1"/>
<path d="M248.5 117.8 L261.9 105.5 L309.7 105.5 L328.5 124.6" fill="none" stroke="#000" stroke-width="1.15" />
<rect x="328" y="124" width="1" height="227"/>
<circle cx="285.7" cy="152.3" r="18.9" fill="none" stroke="#000" stroke-width="1.15"/>
<rect x="285" y="123" width="1" height="61"/>
<rect x="193" y="124" width="1" height="235"/>
<rect x="274" y="123" width="1" height="236"/>
<text x="363.0" y="122.2" font-size="10.6" textLength="9.6" lengthAdjust="spacingAndGlyphs" stroke="#000" stroke-width="0.3" >12</text>
<rect x="356" y="127" width="20" height="1"/>
<line x1="356.2" y1="127.7" x2="287.5" y2="190.4" stroke="#000" stroke-width="1.15" />
<text x="363.0" y="159.6" font-size="10.6" textLength="9.6" lengthAdjust="spacingAndGlyphs" stroke="#000" stroke-width="0.3" >14</text>
<rect x="356" y="164" width="20" height="1"/>
<line x1="356.2" y1="164.9" x2="285.8" y2="198.6" stroke="#000" stroke-width="1.15" />
<text x="363.0" y="183.8" font-size="10.6" textLength="9.6" lengthAdjust="spacingAndGlyphs" stroke="#000" stroke-width="0.3" >13</text>
<rect x="357" y="188" width="19" height="1"/>
<line x1="357.4" y1="189.0" x2="321.5" y2="220.0" stroke="#000" stroke-width="1.15" />
<circle cx="287.8" cy="190.2" r="0.9"/>
<circle cx="286.2" cy="198.4" r="0.9"/>
<circle cx="321.8" cy="219.8" r="0.9"/>
<rect x="175" y="182" width="38" height="1"/>
<rect x="173" y="184" width="1" height="12"/>
<rect x="213" y="184" width="1" height="12"/>
<rect x="174" y="183" width="2" height="1"/>
<rect x="212" y="183" width="2" height="1"/>
<rect x="173" y="195" width="41" height="1"/>
<rect x="183" y="183" width="1" height="13"/>
<rect x="203" y="183" width="1" height="13"/>
<rect x="172" y="196" width="43" height="1"/>
<rect x="172" y="200" width="43" height="1"/>
<rect x="172" y="196" width="1" height="5"/>
<rect x="214" y="196" width="1" height="5"/>
<rect x="180" y="200" width="1" height="42"/>
<rect x="182" y="200" width="1" height="42"/>
<rect x="205" y="200" width="1" height="42"/>
<rect x="207" y="200" width="1" height="42"/>
<rect x="182" y="201" width="24" height="1"/>
<rect x="184" y="204" width="21" height="1"/>
<line x1="182.5" y1="202.0" x2="184.5" y2="204.7" stroke="#000" stroke-width="1.15" />
<line x1="205.7" y1="202.0" x2="204.5" y2="204.7" stroke="#000" stroke-width="1.15" />
<rect x="184" y="204" width="1" height="38"/>
<rect x="204" y="204" width="1" height="38"/>
<rect x="172" y="241" width="43" height="1"/>
<rect x="172" y="245" width="43" height="1"/>
<rect x="172" y="241" width="1" height="5"/>
<rect x="214" y="241" width="1" height="5"/>
<rect x="175" y="246" width="38" height="1"/>
<rect x="175" y="265" width="38" height="1"/>
<rect x="173" y="247" width="1" height="17"/>
<rect x="213" y="247" width="1" height="17"/>
<rect x="174" y="247" width="2" height="1"/>
<rect x="212" y="247" width="2" height="1"/>
<rect x="174" y="264" width="2" height="1"/>
<rect x="212" y="264" width="2" height="1"/>
<rect x="183" y="247" width="1" height="18"/>
<rect x="203" y="247" width="1" height="18"/>
<rect x="184" y="247" width="19" height="1"/>
<rect x="184" y="264" width="19" height="1"/>
<rect x="175" y="267" width="38" height="1"/>
<rect x="175" y="287" width="38" height="1"/>
<rect x="173" y="268" width="1" height="19"/>
<rect x="213" y="268" width="1" height="19"/>
<rect x="174" y="268" width="2" height="1"/>
<rect x="212" y="268" width="2" height="1"/>
<rect x="174" y="286" width="2" height="1"/>
<rect x="212" y="286" width="2" height="1"/>
<rect x="183" y="268" width="1" height="19"/>
<rect x="203" y="268" width="1" height="19"/>
<rect x="184" y="268" width="19" height="1"/>
<rect x="184" y="286" width="19" height="1"/>
<rect x="182" y="287" width="1" height="12"/>
<rect x="205" y="287" width="1" height="12"/>
<rect x="184" y="287" width="1" height="13"/>
<rect x="204" y="287" width="1" height="13"/>
<rect x="183" y="299" width="22" height="1"/>
<rect x="256" y="182" width="38" height="1"/>
<rect x="254" y="184" width="1" height="12"/>
<rect x="294" y="184" width="1" height="12"/>
<rect x="255" y="183" width="2" height="1"/>
<rect x="293" y="183" width="2" height="1"/>
<rect x="254" y="195" width="41" height="1"/>
<rect x="264" y="183" width="1" height="13"/>
<rect x="284" y="183" width="1" height="13"/>
<rect x="253" y="196" width="43" height="1"/>
<rect x="253" y="200" width="43" height="1"/>
<rect x="253" y="196" width="1" height="5"/>
<rect x="295" y="196" width="1" height="5"/>
<rect x="261" y="200" width="1" height="42"/>
<rect x="263" y="200" width="1" height="42"/>
<rect x="286" y="200" width="1" height="42"/>
<rect x="288" y="200" width="1" height="42"/>
<rect x="263" y="201" width="24" height="1"/>
<rect x="265" y="204" width="21" height="1"/>
<line x1="263.5" y1="202.0" x2="265.5" y2="204.7" stroke="#000" stroke-width="1.15" />
<line x1="286.7" y1="202.0" x2="285.5" y2="204.7" stroke="#000" stroke-width="1.15" />
<rect x="265" y="204" width="1" height="38"/>
<rect x="285" y="204" width="1" height="38"/>
<rect x="253" y="241" width="43" height="1"/>
<rect x="253" y="245" width="43" height="1"/>
<rect x="253" y="241" width="1" height="5"/>
<rect x="295" y="241" width="1" height="5"/>
<rect x="256" y="246" width="38" height="1"/>
<rect x="256" y="265" width="38" height="1"/>
<rect x="254" y="247" width="1" height="17"/>
<rect x="294" y="247" width="1" height="17"/>
<rect x="255" y="247" width="2" height="1"/>
<rect x="293" y="247" width="2" height="1"/>
<rect x="255" y="264" width="2" height="1"/>
<rect x="293" y="264" width="2" height="1"/>
<rect x="264" y="247" width="1" height="18"/>
<rect x="284" y="247" width="1" height="18"/>
<rect x="265" y="247" width="19" height="1"/>
<rect x="265" y="264" width="19" height="1"/>
<rect x="256" y="267" width="38" height="1"/>
<rect x="256" y="287" width="38" height="1"/>
<rect x="254" y="268" width="1" height="19"/>
<rect x="294" y="268" width="1" height="19"/>
<rect x="255" y="268" width="2" height="1"/>
<rect x="293" y="268" width="2" height="1"/>
<rect x="255" y="286" width="2" height="1"/>
<rect x="293" y="286" width="2" height="1"/>
<rect x="264" y="268" width="1" height="19"/>
<rect x="284" y="268" width="1" height="19"/>
<rect x="265" y="268" width="19" height="1"/>
<rect x="265" y="286" width="19" height="1"/>
<rect x="263" y="287" width="1" height="12"/>
<rect x="286" y="287" width="1" height="12"/>
<rect x="265" y="287" width="1" height="13"/>
<rect x="285" y="287" width="1" height="13"/>
<rect x="264" y="299" width="22" height="1"/>
<rect x="103" y="200" width="201" height="1"/>
<rect x="103" y="219" width="78" height="1"/>
<rect x="207" y="219" width="55" height="1"/>
<rect x="288" y="219" width="86" height="1"/>
<rect x="103" y="200" width="1" height="129"/>
<rect x="303" y="200" width="1" height="20"/>
<path clip-path="url(#c1)" d="M59.6 200.4 L78.5 219.3 M73.2 200.4 L92.1 219.3 M86.8 200.4 L105.7 219.3 M100.4 200.4 L119.3 219.3 M114.0 200.4 L132.9 219.3 M127.6 200.4 L146.5 219.3 M141.2 200.4 L160.1 219.3 M154.8 200.4 L173.7 219.3 M168.4 200.4 L187.3 219.3 M182.0 200.4 L200.9 219.3" fill="none" stroke="#000" stroke-width="1.15"/>
<path clip-path="url(#c2)" d="M167.4 200.4 L186.3 219.3 M181.1 200.4 L200.0 219.3 M194.8 200.4 L213.7 219.3 M208.5 200.4 L227.4 219.3 M222.2 200.4 L241.1 219.3 M235.9 200.4 L254.8 219.3 M249.6 200.4 L268.5 219.3 M263.3 200.4 L282.2 219.3" fill="none" stroke="#000" stroke-width="1.15"/>
<path clip-path="url(#c3)" d="M254.1 200.4 L273.0 219.3 M265.6 200.4 L284.5 219.3 M277.1 200.4 L296.0 219.3 M288.6 200.4 L307.5 219.3 M300.1 200.4 L319.0 219.3 M311.6 200.4 L330.5 219.3" fill="none" stroke="#000" stroke-width="1.15"/>
<rect x="207" y="226" width="55" height="1"/>
<rect x="286" y="227" width="13" height="1"/>
<path clip-path="url(#c4)" d="M187.2 219.3 L180.2 226.3 M200.9 219.3 L193.9 226.3 M214.6 219.3 L207.6 226.3 M228.3 219.3 L221.3 226.3 M242.0 219.3 L235.0 226.3 M255.7 219.3 L248.7 226.3 M269.4 219.3 L262.4 226.3" fill="none" stroke="#000" stroke-width="1.15"/>
<rect x="207" y="241" width="55" height="1"/>
<rect x="286" y="241" width="27" height="1"/>
<path clip-path="url(#c5)" d="M167.7 226.3 L182.6 241.2 M181.3 226.3 L196.2 241.2 M194.9 226.3 L209.8 241.2 M208.5 226.3 L223.4 241.2 M222.1 226.3 L237.0 241.2 M235.7 226.3 L250.6 241.2 M249.3 226.3 L264.2 241.2 M262.9 226.3 L277.8 241.2" fill="none" stroke="#000" stroke-width="1.15"/>
<rect x="298" y="227" width="1" height="15"/>
<path clip-path="url(#c6)" d="M252.4 227.3 L266.3 241.2 M264.4 227.3 L278.3 241.2 M276.4 227.3 L290.3 241.2 M288.4 227.3 L302.3 241.2 M300.4 227.3 L314.3 241.2" fill="none" stroke="#000" stroke-width="1.15"/>
<path clip-path="url(#c7)" d="M270.0 219.3 L262.0 227.3 M283.0 219.3 L275.0 227.3 M296.0 219.3 L288.0 227.3 M309.0 219.3 L301.0 227.3" fill="none" stroke="#000" stroke-width="1.15"/>
<line x1="298.5" y1="241.2" x2="309.3" y2="231.6" stroke="#000" stroke-width="1.0" />
<rect x="150" y="219" width="1" height="110"/>
<path d="M174.4 220.3 L162.5 238 L161 260 L159 277 Q158 284.5 150.5 285.6" fill="none" stroke="#000" stroke-width="1.15" />
<line x1="174.4" y1="220.3" x2="162.5" y2="238.0" stroke="#000" stroke-width="1.6" />
<path clip-path="url(#c8)" d="M134.0 219.3 L67.7 285.6 M147.3 219.3 L81.0 285.6 M160.6 219.3 L94.3 285.6 M173.9 219.3 L107.6 285.6 M187.2 219.3 L120.9 285.6 M200.5 219.3 L134.2 285.6 M213.8 219.3 L147.5 285.6 M227.1 219.3 L160.8 285.6 M240.4 219.3 L174.1 285.6 M253.7 219.3 L187.4 285.6" fill="none" stroke="#000" stroke-width="1.15"/>
<rect x="140" y="238" width="61" height="1"/>
<rect x="169" y="219" width="1" height="88"/>
<rect x="179" y="226" width="1" height="81"/>
<rect x="172" y="226" width="9" height="1"/>
<path d="M174.4 227.5 Q177 229 177.2 238" fill="none" stroke="#000" stroke-width="1.15" />
<rect x="322" y="219" width="1" height="132"/>
<path d="M298.5 227.3 A13 13 0 0 1 311.5 240.3 L312 241.4 L313.5 282.8 Q315 284.5 317.7 284.6 L322.2 285" fill="none" stroke="#000" stroke-width="1.15" />
<path clip-path="url(#c9)" d="M281.4 219.3 L215.7 285.0 M294.7 219.3 L229.0 285.0 M308.0 219.3 L242.3 285.0 M321.3 219.3 L255.6 285.0 M334.6 219.3 L268.9 285.0 M347.9 219.3 L282.2 285.0 M361.2 219.3 L295.5 285.0 M374.5 219.3 L308.8 285.0 M387.8 219.3 L322.1 285.0 M401.1 219.3 L335.4 285.0" fill="none" stroke="#000" stroke-width="1.15"/>
<line x1="321.9" y1="220.3" x2="309.3" y2="231.6" stroke="#000" stroke-width="1.6" />
<rect x="312" y="219" width="1" height="23"/>
<rect x="312" y="241" width="1" height="9"/>
<rect x="312" y="252" width="1" height="9"/>
<rect x="312" y="263" width="1" height="9"/>
<rect x="312" y="274" width="1" height="9"/>
<rect x="312" y="285" width="1" height="9"/>
<rect x="312" y="296" width="1" height="9"/>
<rect x="255" y="288" width="1" height="19"/>
<rect x="313" y="285" width="10" height="1"/>
<path clip-path="url(#c10)" d="M308.6 228.0 L186.4 350.2 M315.8 228.0 L193.6 350.2 M323.0 228.0 L200.8 350.2 M330.2 228.0 L208.0 350.2 M337.4 228.0 L215.2 350.2 M344.6 228.0 L222.4 350.2 M351.8 228.0 L229.6 350.2 M359.0 228.0 L236.8 350.2 M366.2 228.0 L244.0 350.2 M373.4 228.0 L251.2 350.2 M380.6 228.0 L258.4 350.2 M387.8 228.0 L265.6 350.2 M395.0 228.0 L272.8 350.2 M402.2 228.0 L280.0 350.2 M409.4 228.0 L287.2 350.2 M416.6 228.0 L294.4 350.2 M423.8 228.0 L301.6 350.2 M431.0 228.0 L308.8 350.2 M438.2 228.0 L316.0 350.2 M445.4 228.0 L323.2 350.2 M452.6 228.0 L330.4 350.2" fill="none" stroke="#000" stroke-width="1.15"/>
<rect x="322" y="228" width="7" height="1"/>
<rect x="373" y="219" width="1" height="132"/>
<rect x="366" y="219" width="1" height="22"/>
<rect x="366" y="244" width="1" height="22"/>
<rect x="366" y="269" width="1" height="22"/>
<rect x="366" y="294" width="1" height="22"/>
<rect x="366" y="319" width="1" height="22"/>
<rect x="366" y="344" width="1" height="7"/>
<rect x="103" y="325" width="172" height="1"/>
<text x="122.8" y="322.6" font-size="10" textLength="9.4" lengthAdjust="spacingAndGlyphs" stroke="#000" stroke-width="0.3" >50</text>
<text x="168.0" y="322.6" font-size="10" textLength="9.4" lengthAdjust="spacingAndGlyphs" stroke="#000" stroke-width="0.3" >45</text>
<text x="229.6" y="322.6" font-size="10" textLength="9.0" lengthAdjust="spacingAndGlyphs" stroke="#000" stroke-width="0.3" >85</text>
<text x="196.4" y="353.7" font-size="13.2" textLength="6.2" lengthAdjust="spacingAndGlyphs" stroke="#000" stroke-width="0.3" >B</text>
<text x="210.6" y="353.7" font-size="13.2" textLength="5.2" lengthAdjust="spacingAndGlyphs" stroke="#000" stroke-width="0.3" >-</text>
<text x="224.8" y="353.7" font-size="13.2" textLength="6.2" lengthAdjust="spacingAndGlyphs" stroke="#000" stroke-width="0.3" >B</text>
<text x="201.6" y="367.1" font-size="12.4" textLength="6.6" lengthAdjust="spacingAndGlyphs" stroke="#000" stroke-width="0.3" >M</text>
<text x="215.6" y="367.1" font-size="12.4" textLength="13.6" lengthAdjust="spacingAndGlyphs" stroke="#000" stroke-width="0.3" >1:2</text>
<text x="25.4" y="382.7" font-size="11.4" textLength="10.6" lengthAdjust="spacingAndGlyphs" stroke="#000" stroke-width="0.3" >20</text>
<rect x="21" y="387" width="20" height="1"/>
<text x="26.3" y="399.1" font-size="11" textLength="9.4" lengthAdjust="spacingAndGlyphs" stroke="#000" stroke-width="0.3" >19</text>
<rect x="21" y="404" width="20" height="1"/>
<rect x="40" y="373" width="1" height="32"/>
<line x1="40.6" y1="404.0" x2="54.5" y2="439.0" stroke="#000" stroke-width="1.15" />
<text x="57.2" y="399.1" font-size="11" textLength="5.2" lengthAdjust="spacingAndGlyphs" stroke="#000" stroke-width="0.3" >9</text>
<rect x="52" y="404" width="20" height="1"/>
<line x1="71.0" y1="404.0" x2="73.4" y2="441.4" stroke="#000" stroke-width="1.15" />
<text x="112.8" y="398.9" font-size="10" textLength="4.5" lengthAdjust="spacingAndGlyphs" stroke="#000" stroke-width="0.3" >8</text>
<rect x="102" y="404" width="20" height="1"/>
<line x1="102.7" y1="404.0" x2="86.0" y2="467.0" stroke="#000" stroke-width="1.15" />
<circle cx="73.2" cy="441.5" r="0.9"/>
<circle cx="86" cy="467" r="0.9"/>
<rect x="131" y="361" width="1" height="66"/>
<rect x="131" y="521" width="1" height="23"/>
<rect x="147" y="361" width="1" height="66"/>
<rect x="147" y="521" width="1" height="23"/>
<rect x="156" y="361" width="1" height="66"/>
<rect x="156" y="521" width="1" height="23"/>
<rect x="162" y="361" width="1" height="183"/>
<rect x="169" y="361" width="1" height="183"/>
<rect x="179" y="361" width="1" height="17"/>
<rect x="179" y="380" width="1" height="17"/>
<rect x="179" y="399" width="1" height="17"/>
<rect x="179" y="418" width="1" height="9"/>
<rect x="179" y="434" width="1" height="5"/>
<rect x="179" y="441" width="1" height="5"/>
<rect x="179" y="448" width="1" height="5"/>
<rect x="179" y="455" width="1" height="5"/>
<rect x="179" y="462" width="1" height="5"/>
<rect x="179" y="469" width="1" height="5"/>
<rect x="179" y="476" width="1" height="5"/>
<rect x="179" y="483" width="1" height="5"/>
<rect x="179" y="490" width="1" height="5"/>
<rect x="179" y="497" width="1" height="5"/>
<rect x="179" y="504" width="1" height="5"/>
<rect x="179" y="511" width="1" height="5"/>
<rect x="179" y="518" width="1" height="4"/>
<rect x="179" y="521" width="1" height="23"/>
<rect x="255" y="360" width="1" height="11"/>
<rect x="255" y="373" width="1" height="11"/>
<rect x="255" y="386" width="1" height="11"/>
<rect x="255" y="399" width="1" height="11"/>
<rect x="255" y="412" width="1" height="11"/>
<rect x="255" y="425" width="1" height="2"/>
<rect x="255" y="426" width="1" height="119"/>
<rect x="312" y="361" width="1" height="31"/>
<rect x="312" y="395" width="1" height="31"/>
<rect x="312" y="426" width="1" height="20"/>
<rect x="312" y="449" width="1" height="20"/>
<rect x="312" y="472" width="1" height="20"/>
<rect x="312" y="494" width="1" height="14"/>
<rect x="312" y="511" width="1" height="14"/>
<rect x="312" y="528" width="1" height="14"/>
<rect x="92" y="407" width="1" height="133"/>
<rect x="40" y="474" width="120" height="1"/>
<path d="M45.7 436.8 A21 21 0 0 1 63.7 426.8" fill="none" stroke="#000" stroke-width="1.15" />
<path d="M45.7 512.6 A22 22 0 0 0 63.7 521.7" fill="none" stroke="#000" stroke-width="1.15" />
<rect x="63" y="426" width="260" height="1"/>
<rect x="63" y="521" width="129" height="1"/>
<line x1="191.0" y1="521.6" x2="312.3" y2="493.8" stroke="#000" stroke-width="1.15" />
<rect x="45" y="436" width="35" height="1"/>
<rect x="45" y="512" width="35" height="1"/>
<rect x="45" y="436" width="1" height="77"/>
<rect x="79" y="436" width="1" height="77"/>
<circle cx="59.5" cy="445.2" r="9.0" fill="none" stroke="#000" stroke-width="1.3"/>
<circle cx="59.5" cy="445.2" r="7.0" fill="none" stroke="#000" stroke-width="0.8"/>
<rect x="52" y="445" width="16" height="1"/>
<rect x="59" y="437" width="1" height="17"/>
<circle cx="59.5" cy="502.3" r="9.0" fill="none" stroke="#000" stroke-width="1.3"/>
<circle cx="59.5" cy="502.3" r="7.0" fill="none" stroke="#000" stroke-width="0.8"/>
<rect x="52" y="502" width="16" height="1"/>
<rect x="59" y="494" width="1" height="17"/>
<circle cx="92.7" cy="474.2" r="21.0" fill="none" stroke="#000" stroke-width="1.15"/>
<circle cx="92.7" cy="474.2" r="18.4" fill="none" stroke="#000" stroke-width="1.15"/>
<rect x="150" y="426" width="1" height="96"/>
<rect x="170" y="434" width="135" height="1"/>
<path d="M170 434.2 L163 445 L162.6 452 L160.5 478 Q159.5 490 156 493.5" fill="none" stroke="#000" stroke-width="1.15" />
<rect x="150" y="493" width="13" height="1"/>
<path d="M304 434.2 Q311.5 435 312.3 446 L312.6 478 Q313 490 316 493.5" fill="none" stroke="#000" stroke-width="1.15" />
<rect x="312" y="493" width="11" height="1"/>
<path clip-path="url(#c11)" d="M135.0 426.3 L67.7 493.6 M146.0 426.3 L78.7 493.6 M157.0 426.3 L89.7 493.6 M168.0 426.3 L100.7 493.6 M179.0 426.3 L111.7 493.6 M190.0 426.3 L122.7 493.6 M201.0 426.3 L133.7 493.6 M212.0 426.3 L144.7 493.6 M223.0 426.3 L155.7 493.6 M234.0 426.3 L166.7 493.6 M245.0 426.3 L177.7 493.6 M256.0 426.3 L188.7 493.6 M267.0 426.3 L199.7 493.6 M278.0 426.3 L210.7 493.6 M289.0 426.3 L221.7 493.6 M300.0 426.3 L232.7 493.6 M311.0 426.3 L243.7 493.6 M322.0 426.3 L254.7 493.6 M333.0 426.3 L265.7 493.6 M344.0 426.3 L276.7 493.6 M355.0 426.3 L287.7 493.6 M366.0 426.3 L298.7 493.6 M377.0 426.3 L309.7 493.6 M388.0 426.3 L320.7 493.6 M399.0 426.3 L331.7 493.6" fill="none" stroke="#000" stroke-width="1.15"/>
<rect x="322" y="361" width="1" height="196"/>
<rect x="328" y="367" width="1" height="183"/>
<rect x="322" y="435" width="7" height="1"/>
<rect x="322" y="445" width="7" height="1"/>
<path clip-path="url(#c12)" d="M186.0 445.4 L307.6 567.0 M194.5 445.4 L316.1 567.0 M203.0 445.4 L324.6 567.0 M211.5 445.4 L333.1 567.0 M220.0 445.4 L341.6 567.0 M228.5 445.4 L350.1 567.0 M237.0 445.4 L358.6 567.0 M245.5 445.4 L367.1 567.0 M254.0 445.4 L375.6 567.0 M262.5 445.4 L384.1 567.0 M271.0 445.4 L392.6 567.0 M279.5 445.4 L401.1 567.0 M288.0 445.4 L409.6 567.0 M296.5 445.4 L418.1 567.0 M305.0 445.4 L426.6 567.0 M313.5 445.4 L435.1 567.0 M322.0 445.4 L443.6 567.0 M330.5 445.4 L452.1 567.0" fill="none" stroke="#000" stroke-width="1.15"/>
<rect x="274" y="417" width="49" height="1"/>
<rect x="274" y="426" width="49" height="1"/>
<rect x="274" y="417" width="1" height="10"/>
<rect x="322" y="417" width="1" height="10"/>
<path clip-path="url(#c13)" d="M262.0 417.3 L253.0 426.3 M269.0 417.3 L260.0 426.3 M276.0 417.3 L267.0 426.3 M283.0 417.3 L274.0 426.3 M290.0 417.3 L281.0 426.3 M297.0 417.3 L288.0 426.3 M304.0 417.3 L295.0 426.3 M311.0 417.3 L302.0 426.3 M318.0 417.3 L309.0 426.3 M325.0 417.3 L316.0 426.3 M332.0 417.3 L323.0 426.3" fill="none" stroke="#000" stroke-width="1.15"/>
<path clip-path="url(#c14)" d="M258.0 417.3 L267.0 426.3 M265.0 417.3 L274.0 426.3 M272.0 417.3 L281.0 426.3 M279.0 417.3 L288.0 426.3 M286.0 417.3 L295.0 426.3 M293.0 417.3 L302.0 426.3 M300.0 417.3 L309.0 426.3 M307.0 417.3 L316.0 426.3 M314.0 417.3 L323.0 426.3 M321.0 417.3 L330.0 426.3 M328.0 417.3 L337.0 426.3" fill="none" stroke="#000" stroke-width="1.15"/>
<rect x="274" y="379" width="1" height="48"/>
<rect x="274" y="384" width="49" height="1"/>
<text x="293.6" y="381.6" font-size="10" textLength="9.4" lengthAdjust="spacingAndGlyphs" stroke="#000" stroke-width="0.3" >50</text>
<rect x="266" y="394" width="1" height="21"/>
<rect x="262" y="417" width="13" height="1"/>
<rect x="266" y="426" width="1" height="12"/>
<text x="263.6" y="405.6" font-size="10" textLength="8.6" lengthAdjust="spacingAndGlyphs" stroke="#000" stroke-width="0.3" transform="rotate(-90 263.6 405.6)" >10</text>
<text x="362.7" y="375.9" font-size="11.2" textLength="8.8" lengthAdjust="spacingAndGlyphs" stroke="#000" stroke-width="0.3" >10</text>
<rect x="354" y="381" width="21" height="1"/>
<line x1="354.3" y1="381.8" x2="300.4" y2="420.8" stroke="#000" stroke-width="1.15" />
<text x="355.7" y="402.8" font-size="9" textLength="115.4" lengthAdjust="spacingAndGlyphs" stroke="#000" stroke-width="0.3" >LEPIT CHEMOPRENEM EXTREM</text>
<rect x="354" y="405" width="118" height="1"/>
<line x1="354.3" y1="406.2" x2="316.7" y2="424.6" stroke="#000" stroke-width="1.15" />
<circle cx="300.4" cy="420.8" r="0.9"/>
<circle cx="316.7" cy="424.6" r="0.9"/>
</svg>
</body></html>
